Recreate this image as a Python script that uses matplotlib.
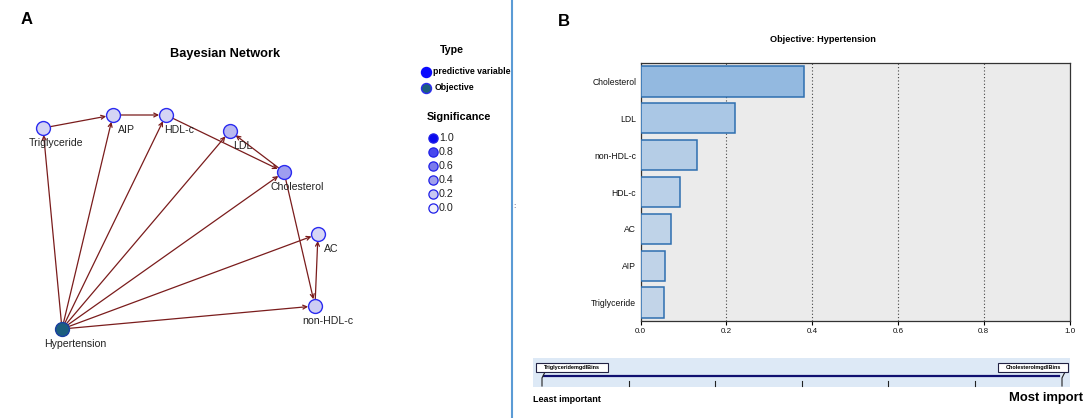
import numpy as np
import matplotlib
matplotlib.use("Agg")
import matplotlib.pyplot as plt
from matplotlib.patches import FancyArrowPatch, Rectangle

plt.rcParams['font.family'] = ['Liberation Sans', 'DejaVu Sans']

# ---- data ----
# network nodes (panel A) and their layout in pixel space
nodes = ['Triglyceride', 'AIP', 'HDL-c', 'LDL', 'Cholesterol', 'AC', 'non-HDL-c', 'Hypertension']
node_x = [43, 113, 166, 230, 284, 318, 315, 62]
node_y = [128, 115, 115, 131, 172, 234, 306, 329]
node_fill = ['#d4d4f4', '#d4d4f4', '#d4d4f4', '#b9b9f0', '#9e9ef0', '#d6d6f5', '#cdcdf3', '#1b5e7e']

edges = [
    ('Triglyceride', 'AIP'),
    ('AIP', 'HDL-c'),
    ('HDL-c', 'Cholesterol'),
    ('Cholesterol', 'LDL'),
    ('Cholesterol', 'non-HDL-c'),
    ('non-HDL-c', 'AC'),
    ('Hypertension', 'Triglyceride'),
    ('Hypertension', 'AIP'),
    ('Hypertension', 'HDL-c'),
    ('Hypertension', 'LDL'),
    ('Hypertension', 'Cholesterol'),
    ('Hypertension', 'AC'),
    ('Hypertension', 'non-HDL-c'),
]

sig_levels = ['1.0', '0.8', '0.6', '0.4', '0.2', '0.0']
sig_colors = ['#0a0aee', '#4848ee', '#7a7aec', '#a0a0ec', '#c8c8f2', '#f0f0fb']

# predictor importance (panel B), top to bottom
predictors = ['Cholesterol', 'LDL', 'non-HDL-c', 'HDL-c', 'AC', 'AIP', 'Triglyceride']
importance = [0.380, 0.221, 0.131, 0.092, 0.070, 0.058, 0.054]
bar_colors = ['#93b9e0', '#aac7e5', '#b5cde6', '#bad0e8', '#bfd3e8', '#c0d3e8', '#c2d4e8']
xticks = [0.0, 0.2, 0.4, 0.6, 0.8, 1.0]

W, H = 1084, 418
fig = plt.figure(figsize=(W / 100, H / 100), dpi=100)
fig.patch.set_facecolor('white')

# overlay axes in pixel coordinates
ov = fig.add_axes([0, 0, 1, 1])
ov.set_xlim(0, W)
ov.set_ylim(H, 0)
ov.axis('off')

# ---- panel A: Bayesian network ----
ov.text(27, 20, 'A', fontsize=12, fontweight='bold', ha='center', va='center')
ov.text(225, 54, 'Bayesian Network', fontsize=9.2, fontweight='bold', ha='center', va='center')

pos = {n: (x, y) for n, x, y in zip(nodes, node_x, node_y)}
for src, dst in edges:
    arr = FancyArrowPatch(pos[src], pos[dst], arrowstyle='->', mutation_scale=7,
                          color='#7a1c1c', lw=0.9, shrinkA=5, shrinkB=5, zorder=2)
    ov.add_patch(arr)

for n, x, y, c in zip(nodes, node_x, node_y, node_fill):
    ec = '#1a3fa0' if n == 'Hypertension' else '#2b2bf0'
    ov.scatter([x], [y], s=100, color=c, edgecolor=ec, linewidth=1.0, zorder=3)
    ov.text(x + 13, y + 15, n, fontsize=7.6, color='#222222', ha='center', va='center', zorder=4)

# legend
ov.text(452, 50, 'Type', fontsize=7.7, fontweight='bold', ha='center', va='center')
ov.scatter([426], [72], s=52, color='#0a0aff', edgecolor='#0a0aff', zorder=3)
ov.text(433, 72, 'predictive variable', fontsize=6.3, fontweight='bold', ha='left', va='center')
ov.scatter([426], [88], s=52, color='#1b5e7e', edgecolor='#2b2bf0', linewidth=1.0, zorder=3)
ov.text(435, 88, 'Objective', fontsize=6.3, fontweight='bold', ha='left', va='center')

ov.text(459, 117, 'Significance', fontsize=7.8, fontweight='bold', ha='center', va='center')
sig_y = [138, 152, 166, 180, 194, 208]
for lab, c, y in zip(sig_levels, sig_colors, sig_y):
    ov.scatter([433], [y], s=44, color=c, edgecolor='#2020e8', linewidth=0.9, zorder=3)
    ov.text(439, y, lab, fontsize=7.7, color='#222222', ha='left', va='center')

# separator
ov.plot([512, 512], [0, H], color='#5b9bd5', lw=1.5)
ov.text(514, 206, ':', fontsize=6, color='#333366', ha='center', va='center')

# ---- panel B: predictor importance ----
ov.text(564, 21, 'B', fontsize=12, fontweight='bold', ha='center', va='center')
ov.text(823, 39, 'Objective: Hypertension', fontsize=6.6, fontweight='bold', ha='center', va='center')

ax = fig.add_axes([640.5 / W, (H - 321) / H, (1069.6 - 640.5) / W, (321 - 63) / H])
ax.set_facecolor('#ebebeb')
ypos = np.arange(len(predictors))[::-1]
ax.barh(ypos, importance, height=0.82, color=bar_colors, edgecolor='#2e6fb0', linewidth=1.1, zorder=3)
ax.set_xlim(0, 1)
ax.set_ylim(-0.5, len(predictors) - 0.5)
ax.set_yticks(ypos)
ax.set_yticklabels(predictors, fontsize=6.2, color='#111111')
ax.tick_params(axis='y', length=0, pad=3)
ax.set_xticks(xticks)
ax.set_xticklabels(['%.1f' % v for v in xticks], fontsize=5.8, color='#111111')
ax.tick_params(axis='x', length=3, width=0.8, pad=2)
for v in xticks[1:-1]:
    ax.axvline(v, color='#444444', lw=0.8, linestyle=(0, (1, 2)), zorder=1)
for s in ax.spines.values():
    s.set_color('#333333')
    s.set_linewidth(0.9)

# importance scale strip
ov.add_patch(Rectangle((533, 358), 1069.6 - 533, 29, facecolor='#dde9f6', edgecolor='none', zorder=1))
ov.plot([544, 1059], [376, 376], color='#101070', lw=1.6, zorder=2)
for x in np.linspace(542, 1061, 7)[1:-1]:
    ov.plot([x, x], [381, 386], color='#222222', lw=0.8, zorder=2)
ov.plot([545, 542, 542], [372, 378, 386], color='#222222', lw=0.8, zorder=2)
ov.plot([1065, 1062, 1062], [372, 378, 386], color='#222222', lw=0.8, zorder=2)
ov.add_patch(Rectangle((536, 363), 71.5, 8.5, facecolor='white', edgecolor='#222244', lw=0.8, zorder=3))
ov.text(571.7, 367.3, 'TriglyceridemgdlBins', fontsize=4.0, fontweight='bold', ha='center', va='center', zorder=4)
ov.add_patch(Rectangle((998, 363), 70, 8.5, facecolor='white', edgecolor='#222244', lw=0.8, zorder=3))
ov.text(1033, 367.3, 'CholesterolmgdlBins', fontsize=4.0, fontweight='bold', ha='center', va='center', zorder=4)

ov.text(533, 399, 'Least important', fontsize=6.5, fontweight='bold', ha='left', va='center')
ov.text(1083, 398, 'Most import', fontsize=9.4, fontweight='bold', ha='right', va='center')

fig.savefig('out.png', dpi=100)
